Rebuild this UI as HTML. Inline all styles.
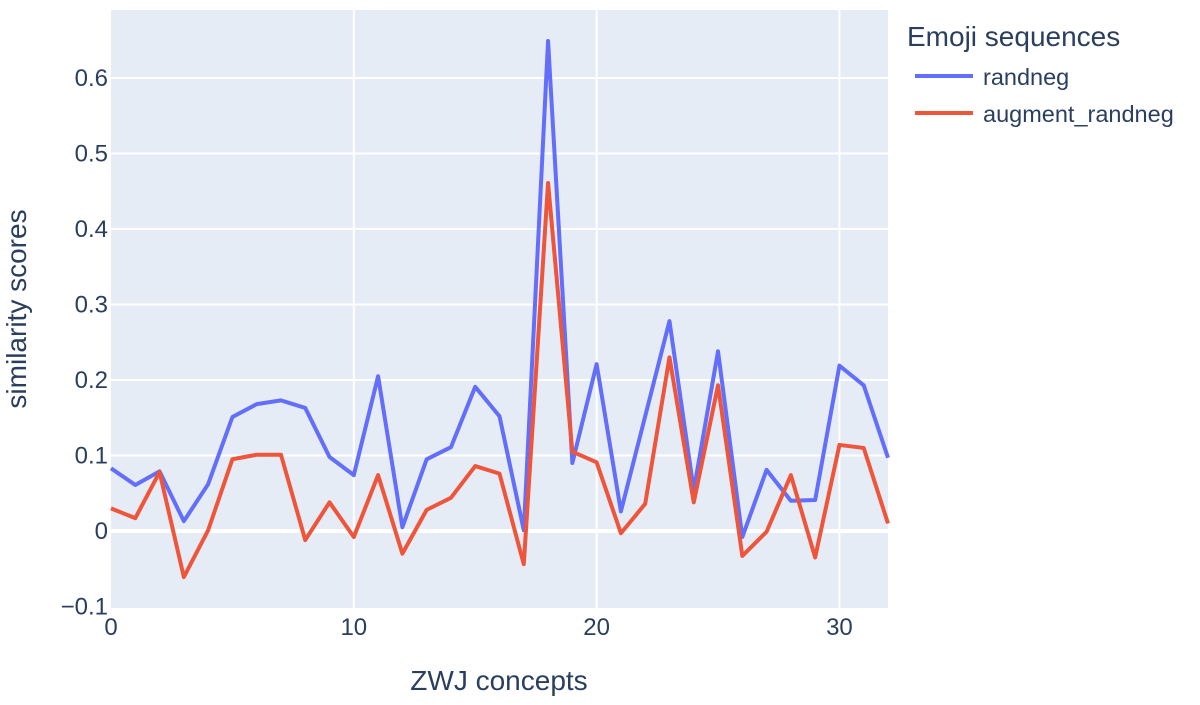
<!DOCTYPE html>
<html><head><meta charset="utf-8"><style>
body{margin:0;background:#fff;font-family:"Liberation Sans",sans-serif;}
svg text{font-family:"Liberation Sans",sans-serif;fill:#2a3f5f;}
</style></head><body>
<svg id="chart" width="1200" height="700">
<rect x="111" y="10" width="777" height="598" fill="#e5ecf6"/>
<g id="grid"></g><g id="series"></g><g id="ticks"></g>
<text x="499" y="690" font-size="28" text-anchor="middle">ZWJ concepts</text>
<text transform="translate(26,309) rotate(-90)" font-size="28" text-anchor="middle">similarity scores</text>
<text x="907" y="46" font-size="28">Emoji sequences</text>
<g><line x1="915" y1="76" x2="973" y2="76" stroke="#636efa" stroke-width="4"/><text x="983" y="85" font-size="23.5">randneg</text></g>
<g><line x1="915" y1="113" x2="973" y2="113" stroke="#ef553b" stroke-width="4"/><text x="983" y="122" font-size="23.5">augment_randneg</text></g>
</svg>
<script>
const categories=[...Array(33).keys()];
const randneg=[0.083,0.061,0.079,0.013,0.062,0.151,0.168,0.173,0.163,0.098,0.074,0.205,0.005,0.095,0.111,0.191,0.152,0.001,0.649,0.090,0.221,0.026,0.152,0.278,0.054,0.238,-0.008,0.081,0.040,0.041,0.219,0.193,0.097];
const augmentRandneg=[0.030,0.017,0.078,-0.061,0.001,0.095,0.101,0.101,-0.012,0.038,-0.008,0.074,-0.030,0.028,0.044,0.086,0.076,-0.044,0.461,0.105,0.091,-0.003,0.036,0.230,0.038,0.193,-0.033,-0.001,0.074,-0.035,0.114,0.110,0.010];
const xTicks=[0,10,20,30];
const yTicks=[-0.1,0,0.1,0.2,0.3,0.4,0.5,0.6];
const yTickLabels=["−0.1","0","0.1","0.2","0.3","0.4","0.5","0.6"];
const NS="http://www.w3.org/2000/svg";
const xs=v=>111+v*(777/32);
const ys=v=>531-v*755;
function mk(t,a,p){const e=document.createElementNS(NS,t);for(const k in a)e.setAttribute(k,a[k]);p.appendChild(e);return e;}
const grid=document.getElementById('grid'),ticks=document.getElementById('ticks'),series=document.getElementById('series');
xTicks.forEach(t=>{
  if(t>0){const l=mk('line',{x1:xs(t),x2:xs(t),y1:10,y2:608,stroke:'#fff','stroke-width':2},grid);
  
  }
  const tx=mk('text',{x:xs(t),y:635,'font-size':24,'text-anchor':'middle'},ticks);tx.textContent=t;
  
  
});
yTicks.forEach((t,i)=>{
  if(t>-0.1){const l=mk('line',{x1:111,x2:888,y1:ys(t),y2:ys(t),stroke:'#fff','stroke-width':t===0?4:2},grid);
  
  }
  const tx=mk('text',{x:108,y:ys(t)+8,'font-size':24,'text-anchor':'end'},ticks);tx.textContent=yTickLabels[i];
  
  
});
[[randneg,'#636efa','line-randneg'],[augmentRandneg,'#ef553b','line-augment-randneg']].forEach(([d,c,n])=>{
  const p=mk('polyline',{points:d.map((v,i)=>xs(categories[i])+','+ys(v)).join(' '),fill:'none',stroke:c,'stroke-width':4,'stroke-linejoin':'round'},series);
  
  
});
</script>
</body></html>
